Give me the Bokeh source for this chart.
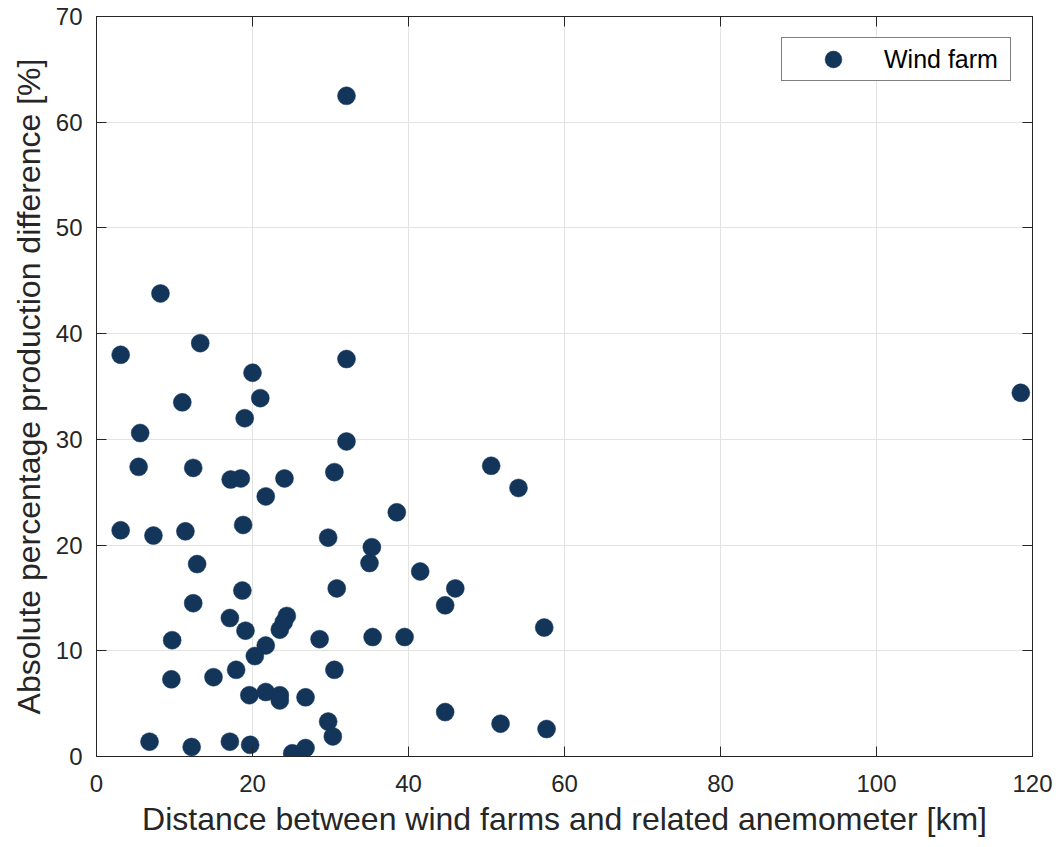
from bokeh.plotting import figure
from bokeh.models import (LinearAxis, Range1d, FixedTicker, Legend, LegendItem,
                          ColumnDataSource, CustomLabelingPolicy)
from bokeh.embed import file_html
from bokeh.resources import INLINE

distance_km = [32.05, 8.2, 3.1, 13.3, 32.05, 20.0, 11.0, 21.0, 19.0, 5.6,
               32.05, 5.4, 12.4, 17.2, 18.5, 24.1, 21.7, 30.5, 3.1, 7.3,
               11.4, 18.8, 12.9, 29.7, 38.5, 35.3, 35.0, 41.5, 50.6, 54.1,
               30.8, 18.7, 12.4, 46.0, 44.7, 17.1, 24.4, 24.0, 23.5, 19.1,
               21.7, 9.7, 28.6, 35.4, 39.5, 57.4, 20.3, 17.9, 30.5, 9.6,
               15.0, 19.6, 21.7, 23.5, 23.5, 26.8, 29.7, 44.7, 51.8, 57.7,
               6.8, 12.2, 17.1, 19.7, 25.1, 26.8, 30.3, 118.5]
abs_diff_pct = [62.5, 43.8, 38.0, 39.1, 37.6, 36.3, 33.5, 33.9, 32.0, 30.6,
                29.8, 27.4, 27.3, 26.2, 26.3, 26.3, 24.6, 26.9, 21.4, 20.9,
                21.3, 21.9, 18.2, 20.7, 23.1, 19.8, 18.3, 17.5, 27.5, 25.4,
                15.9, 15.7, 14.5, 15.9, 14.3, 13.1, 13.3, 12.7, 12.0, 11.9,
                10.5, 11.0, 11.1, 11.3, 11.3, 12.2, 9.5, 8.2, 8.2, 7.3,
                7.5, 5.8, 6.1, 5.8, 5.3, 5.6, 3.3, 4.2, 3.1, 2.6,
                1.4, 0.9, 1.4, 1.1, 0.3, 0.8, 1.9, 34.4]

x_ticks = [0, 20, 40, 60, 80, 100, 120]
y_ticks = [0, 10, 20, 30, 40, 50, 60, 70]

AX = "#262626"
FONT = "Liberation Sans"

p = figure(frame_width=936, frame_height=740,
           x_range=Range1d(0, 120), y_range=Range1d(0, 70),
           output_backend="svg", toolbar_location=None,
           min_border_left=96, min_border_right=30,
           min_border_top=16, min_border_bottom=91)
p.background_fill_color = "white"
p.border_fill_color = "white"
p.outline_line_color = AX
p.outline_line_width = 1

for ax in (p.xaxis[0], p.yaxis[0]):
    ax.major_tick_in = 10
    ax.major_tick_out = 0
    ax.minor_tick_in = 0
    ax.minor_tick_out = 0
    ax.axis_line_color = AX
    ax.major_tick_line_color = AX
    ax.major_label_text_color = AX
    ax.major_label_text_font = FONT
    ax.major_label_text_font_size = "24px"
    ax.axis_label_text_color = AX
    ax.axis_label_text_font = FONT
    ax.axis_label_text_font_size = "32px"
    ax.axis_label_text_font_style = "normal"

p.xaxis[0].ticker = FixedTicker(ticks=x_ticks)
p.yaxis[0].ticker = FixedTicker(ticks=y_ticks)
p.xaxis[0].axis_label = "Distance between wind farms and related anemometer [km]"
p.yaxis[0].axis_label = "Absolute percentage production difference [%]"
p.xaxis[0].major_label_standoff = 18
p.yaxis[0].major_label_standoff = 14
p.xaxis[0].axis_label_standoff = 6
p.yaxis[0].axis_label_standoff = 6

no_labels = CustomLabelingPolicy(code="return new Set()")
for loc, tk in (("right", y_ticks), ("above", x_ticks)):
    a = LinearAxis(ticker=FixedTicker(ticks=tk))
    a.major_tick_in = 10
    a.major_tick_out = 0
    a.minor_tick_in = 0
    a.minor_tick_out = 0
    a.axis_line_color = AX
    a.major_tick_line_color = AX
    a.major_label_policy = no_labels
    a.major_label_standoff = 0
    p.add_layout(a, loc)

p.xgrid.ticker = FixedTicker(ticks=x_ticks)
p.ygrid.ticker = FixedTicker(ticks=y_ticks)
p.grid.grid_line_color = "#e3e3e3"
p.grid.grid_line_width = 1

src = ColumnDataSource(dict(x=distance_km, y=abs_diff_pct))
r = p.scatter("x", "y", source=src, size=18, fill_color="#13355a",
              line_color="#13355a", line_width=0.5)

legend = Legend(items=[LegendItem(label="Wind farm", renderers=[r])],
                location=(685, 675))
legend.label_text_font = FONT
legend.label_text_font_size = "25px"
legend.label_text_color = "black"
legend.border_line_color = "black"
legend.border_line_width = 1
legend.background_fill_color = "white"
legend.background_fill_alpha = 1
legend.padding = 0
legend.margin = 0
legend.glyph_width = 102
legend.glyph_height = 42
legend.label_standoff = 0
legend.label_width = 126
legend.label_height = 42
p.add_layout(legend, "center")

open("out.html", "w").write(file_html(p, INLINE))
